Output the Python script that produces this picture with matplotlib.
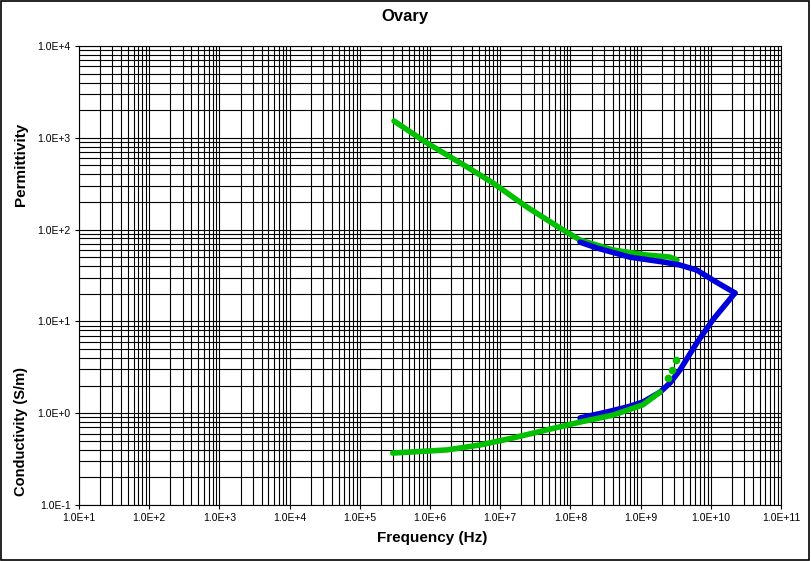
import numpy as np
import matplotlib
matplotlib.use('Agg')
import matplotlib.pyplot as plt
from matplotlib.ticker import FixedLocator, FuncFormatter, NullFormatter
from matplotlib.patches import Rectangle

plt.rcParams['font.family'] = ['Liberation Sans', 'DejaVu Sans']

# permittivity, green series
perm_g_f = [3.07e5, 9.06e5, 3.37e6, 7.89e6, 2.41e7, 7.11e7, 1.37e8, 4.05e8, 1.23e9, 2.62e9, 3.3e9]
perm_g_v = [1524, 877, 481, 322, 176, 104, 77, 60, 52.8, 50.2, 46.7]

# permittivity, blue series
perm_b_f = [1.37e8, 2.4e8, 7.1e8, 2.09e9, 3.63e9, 6.3e9, 1.07e10, 2.21e10]
perm_b_v = [73, 63, 50, 44.4, 41.1, 36.3, 28.2, 20.4]

# conductivity, blue series
cond_b_f = [1.37e8, 3.3e8, 6.5e8, 1.07e9, 1.9e9, 2.63e9, 3.63e9, 6.3e9, 1.07e10, 2.21e10]
cond_b_v = [0.887, 1.03, 1.17, 1.32, 1.70, 2.14, 2.95, 5.82, 10.4, 20.4]

# conductivity, green series (line + a few loose points at the end)
cond_g_f = [2.95e5, 1.74e6, 5.1e6, 1.51e7, 4.68e7, 1.37e8, 4.07e8, 1.07e9, 1.9e9]
cond_g_v = [0.368, 0.398, 0.45, 0.537, 0.66, 0.80, 0.955, 1.23, 1.70]
cond_g_dots_f = [2.45e9, 2.82e9, 3.16e9]
cond_g_dots_v = [2.40, 2.95, 3.8]

x_decades = list(range(1, 12))
y_decades = list(range(-1, 5))

green = '#00c000'
blue = '#0000dd'

fig = plt.figure(figsize=(8.11, 5.61), dpi=100)
ax = fig.add_axes([79/811, 1-505/561, 702/811, 459/561])

ax.plot(perm_g_f, perm_g_v, color=green, lw=4, solid_capstyle='round', zorder=3)
ax.plot(perm_b_f, perm_b_v, color=blue, lw=4, solid_capstyle='round', zorder=4)
ax.plot(cond_b_f, cond_b_v, color=blue, lw=4, solid_capstyle='round', zorder=3)
ax.plot(cond_g_f, cond_g_v, color=green, lw=4, solid_capstyle='round', zorder=4)
ax.plot(cond_g_dots_f, cond_g_dots_v, 'o', color=green, ms=5.5, mec='none', zorder=4)

ax.set_xscale('log')
ax.set_yscale('log')
ax.set_xlim(10.0 ** x_decades[0], 10.0 ** x_decades[-1])
ax.set_ylim(10.0 ** y_decades[0], 10.0 ** y_decades[-1])

sci = FuncFormatter(lambda v, p: '1.0E%+d' % int(round(np.log10(v))))
for axis, decs in ((ax.xaxis, x_decades), (ax.yaxis, y_decades)):
    majors = [10.0 ** d for d in decs]
    minors = [m * 10.0 ** d for d in decs[:-1] for m in range(2, 10)]
    axis.set_major_locator(FixedLocator(majors))
    axis.set_minor_locator(FixedLocator(minors))
    axis.set_major_formatter(sci)
    axis.set_minor_formatter(NullFormatter())

ax.grid(True, which='both', color='black', lw=0.8)
ax.set_axisbelow(True)
ax.tick_params(which='major', direction='out', length=3, width=0.8, labelsize=7.5, pad=3)
ax.tick_params(which='minor', length=0)
for s in ax.spines.values():
    s.set_linewidth(0.8)

fig.text(405/811, 1-16/561, 'Ovary', fontsize=12, fontweight='bold', ha='center', va='center')
fig.text(432/811, 1-538/561, 'Frequency (Hz)', fontsize=11, fontweight='bold',
         ha='center', va='center')
fig.text(21/811, 1-164/561, 'Permittivity', rotation=90, fontsize=11,
         fontweight='bold', ha='center', va='center')
fig.text(21/811, 1-432/561, 'Conductivity (S/m)', rotation=90, fontsize=10.5,
         fontweight='bold', ha='center', va='center')

fig.patches.append(Rectangle((0.001, 0.001), 0.997, 0.997, transform=fig.transFigure,
                             fill=False, edgecolor='black', lw=1.2))

fig.savefig('out.png', dpi=100)
